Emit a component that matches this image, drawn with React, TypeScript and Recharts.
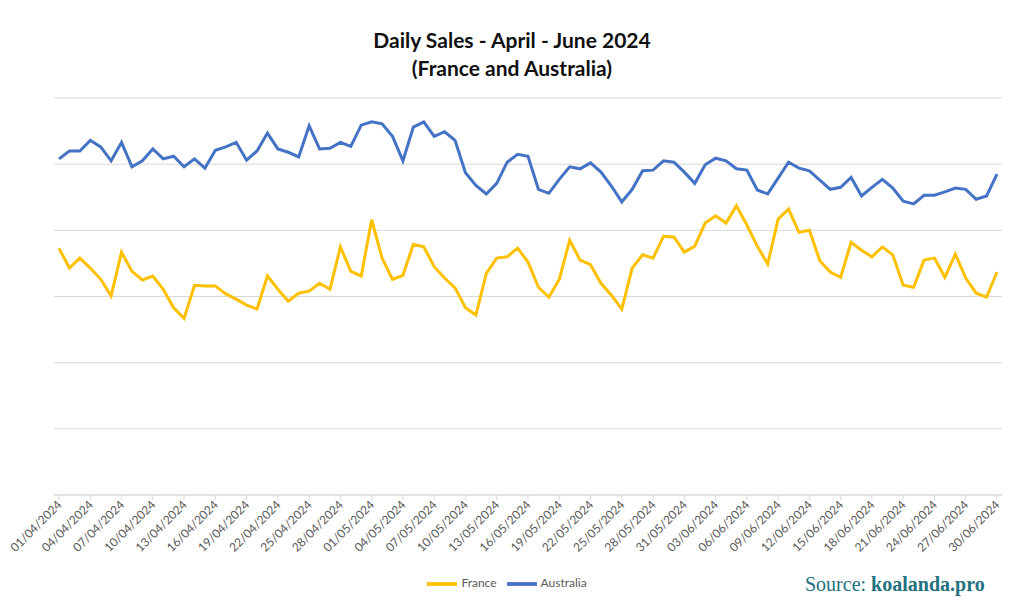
import React from "react";
import { LineChart, Line, XAxis, YAxis, CartesianGrid, Legend } from "recharts";

// categories: every day from 1 April to 30 June 2024
const months = [
  { m: "04", days: 30 },
  { m: "05", days: 31 },
  { m: "06", days: 30 },
];
const dates: string[] = [];
months.forEach(({ m, days }) => {
  for (let d = 1; d <= days; d++) {
    dates.push(`${String(d).padStart(2, "0")}/${m}/2024`);
  }
});

const france = [
  3730, 3430, 3580, 3430, 3260, 3010, 3670, 3380, 3250, 3310,
  3110, 2830, 2670, 3170, 3160, 3160, 3040, 2960, 2870, 2810,
  3310, 3110, 2930, 3050, 3080, 3200, 3110, 3750, 3380, 3310,
  4160, 3580, 3260, 3320, 3790, 3750, 3450, 3280, 3130, 2830,
  2720, 3350, 3580, 3600, 3730, 3520, 3140, 2990, 3260, 3850,
  3550, 3480, 3200, 3020, 2810, 3430, 3630, 3580, 3910, 3900,
  3670, 3760, 4110, 4220, 4110, 4370, 4080, 3760, 3490, 4170,
  4320, 3970, 4000, 3540, 3370, 3290, 3820, 3700, 3600, 3750,
  3630, 3170, 3140, 3550, 3580, 3290, 3640, 3280, 3050, 2990,
  3370,
];

const australia = [
  5080, 5200, 5200, 5360, 5260, 5050, 5330, 4960, 5050, 5230,
  5080, 5120, 4960, 5080, 4940, 5210, 5260, 5330, 5060, 5200,
  5470, 5230, 5180, 5110, 5580, 5230, 5240, 5330, 5270, 5590,
  5640, 5610, 5420, 5050, 5560, 5640, 5420, 5490, 5360, 4870,
  4680, 4550, 4710, 5030, 5150, 5120, 4620, 4560, 4770, 4960,
  4930, 5020, 4880, 4670, 4430, 4620, 4900, 4910, 5050, 5030,
  4880, 4710, 4990, 5090, 5050, 4930, 4910, 4610, 4550, 4790,
  5030, 4940, 4900, 4760, 4620, 4650, 4800, 4520, 4650, 4770,
  4640, 4440, 4400, 4530, 4530, 4580, 4640, 4620, 4470, 4520,
  4850,
];

const yTicks = [0, 1000, 2000, 3000, 4000, 5000, 6000];
const seriesOrder = ["France", "Australia"];

const data = dates.map((date, i) => ({
  date,
  France: france[i],
  Australia: australia[i],
}));

const DateTick = (props: any) => {
  const { x, y, payload } = props;
  return (
    <g transform={`translate(${x},${y})`}>
      <text
        x={0}
        y={0}
        dy={5}
        textAnchor="end"
        fill="#595959"
        fontSize={12}
        fontFamily="Lato, sans-serif"
        transform="rotate(-45)"
      >
        {payload.value}
      </text>
    </g>
  );
};

export default function App() {
  return (
    <div style={{ position: "relative", width: 1024, height: 614, background: "#fff", fontFamily: "Lato, sans-serif" }}>
      <style>{`body{margin:0}`}</style>
      <div
        style={{
          position: "absolute",
          top: 26,
          left: 0,
          width: 1024,
          textAlign: "center",
          fontSize: 21,
          lineHeight: "28px",
          fontWeight: 700,
          color: "#111",
        }}
      >
        <div>Daily Sales - April - June 2024</div>
        <div>(France and Australia)</div>
      </div>

      <LineChart width={1024} height={614} data={data} margin={{ top: 98, right: 22, left: 54, bottom: 25 }}>
        <CartesianGrid vertical={false} stroke="#d9d9d9" />
        <XAxis
          dataKey="date"
          interval={2}
          height={74}
          padding={{ left: 5, right: 5 }}
          stroke="#d9d9d9"
          tickLine={{ stroke: "#d9d9d9" }}
          tickSize={5}
          tick={<DateTick />}
        />
        <YAxis hide domain={[0, 6000]} ticks={yTicks} />
        <Legend
          verticalAlign="bottom"
          height={20}
          iconType="plainline"
          iconSize={30}
          itemSorter={(item: any) => seriesOrder.indexOf(item.dataKey)}
          wrapperStyle={{ left: 0, width: 1024, fontSize: 12, color: "#595959" }}
          formatter={(v: string) => <span style={{ color: "#595959" }}>{v}</span>}
        />
        <Line type="linear" dataKey="France" stroke="#FFC000" strokeWidth={3} dot={false} isAnimationActive={false} />
        <Line type="linear" dataKey="Australia" stroke="#4472C4" strokeWidth={3} dot={false} isAnimationActive={false} />
      </LineChart>

      <div
        style={{
          position: "absolute",
          left: 805,
          top: 573,
          fontFamily: "'Liberation Serif', serif",
          fontSize: 20,
          color: "#23707f",
          whiteSpace: "nowrap",
        }}
      >
        Source: <b>koalanda.pro</b>
      </div>
    </div>
  );
}
